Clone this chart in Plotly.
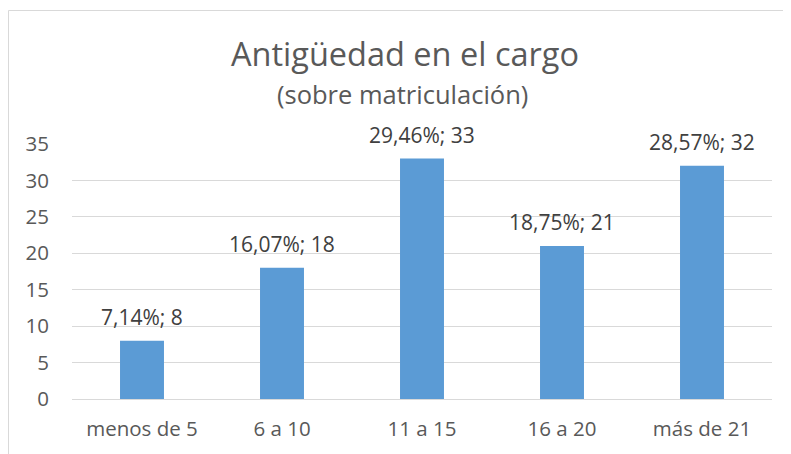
import plotly.graph_objects as go

categories = ["menos de 5", "6 a 10", "11 a 15", "16 a 20", "más de 21"]
values = [8, 18, 33, 21, 32]
percents = ["7,14%", "16,07%", "29,46%", "18,75%", "28,57%"]
labels = [f"{p}; {v}" for p, v in zip(percents, values)]
yticks = [0, 5, 10, 15, 20, 25, 30, 35]

# page body has an 8px margin, so the figure is drawn 8px smaller
W, H = 783, 446
L, R, T, B = 64, 19, 136, 55
pw, ph = W - L - R, H - T - B

FONT = "Open Sans"
GRAY = "#595959"

fig = go.Figure(go.Bar(
    x=categories, y=values,
    marker=dict(color="#5B9BD5", line=dict(width=0)),
    cliponaxis=False,
))

def px_x(p):
    return (p - L) / pw

def px_y(p):
    return (H - B - p) / ph

annotations = [
    dict(text=t, x=c, y=v, xref="x", yref="y", xanchor="center", yanchor="bottom",
         yshift=8, showarrow=False, font=dict(family=FONT, size=21, color="#404040"))
    for c, v, t in zip(categories, values, labels)
]
annotations += [
    dict(text="Antigüedad en el cargo", xref="paper", yref="paper",
         x=px_x(397), y=px_y(46), xanchor="center", yanchor="middle",
         showarrow=False, font=dict(family=FONT, size=32.5, color=GRAY)),
    dict(text="(sobre matriculación)", xref="paper", yref="paper",
         x=px_x(394), y=px_y(86), xanchor="center", yanchor="middle",
         showarrow=False, font=dict(family=FONT, size=25.5, color=GRAY)),
]

fig.update_layout(
    width=W, height=H,
    margin=dict(l=L, r=R, t=T, b=B),
    paper_bgcolor="white", plot_bgcolor="white",
    bargap=0.686,
    showlegend=False,
    font=dict(family=FONT, color=GRAY),
    yaxis=dict(range=[0, 35], tickvals=yticks, showgrid=True, gridcolor="#d9d9d9",
               gridwidth=1, zeroline=False, showline=False,
               tickfont=dict(family=FONT, size=20.5, color=GRAY),
               ticklabelstandoff=22),
    xaxis=dict(showline=True, linecolor="#d9d9d9", linewidth=1, showgrid=False,
               tickfont=dict(family=FONT, size=20.5, color=GRAY),
               ticklabelstandoff=11),
    annotations=annotations,
    shapes=[
        dict(type="rect", xref="paper", yref="paper",
             x0=px_x(0.5), x1=px_x(W + 20), y0=px_y(2.5), y1=px_y(H + 20),
             line=dict(color="#d9d9d9", width=1), fillcolor="rgba(0,0,0,0)",
             layer="below"),
    ],
)

fig.write_html("out.html")
